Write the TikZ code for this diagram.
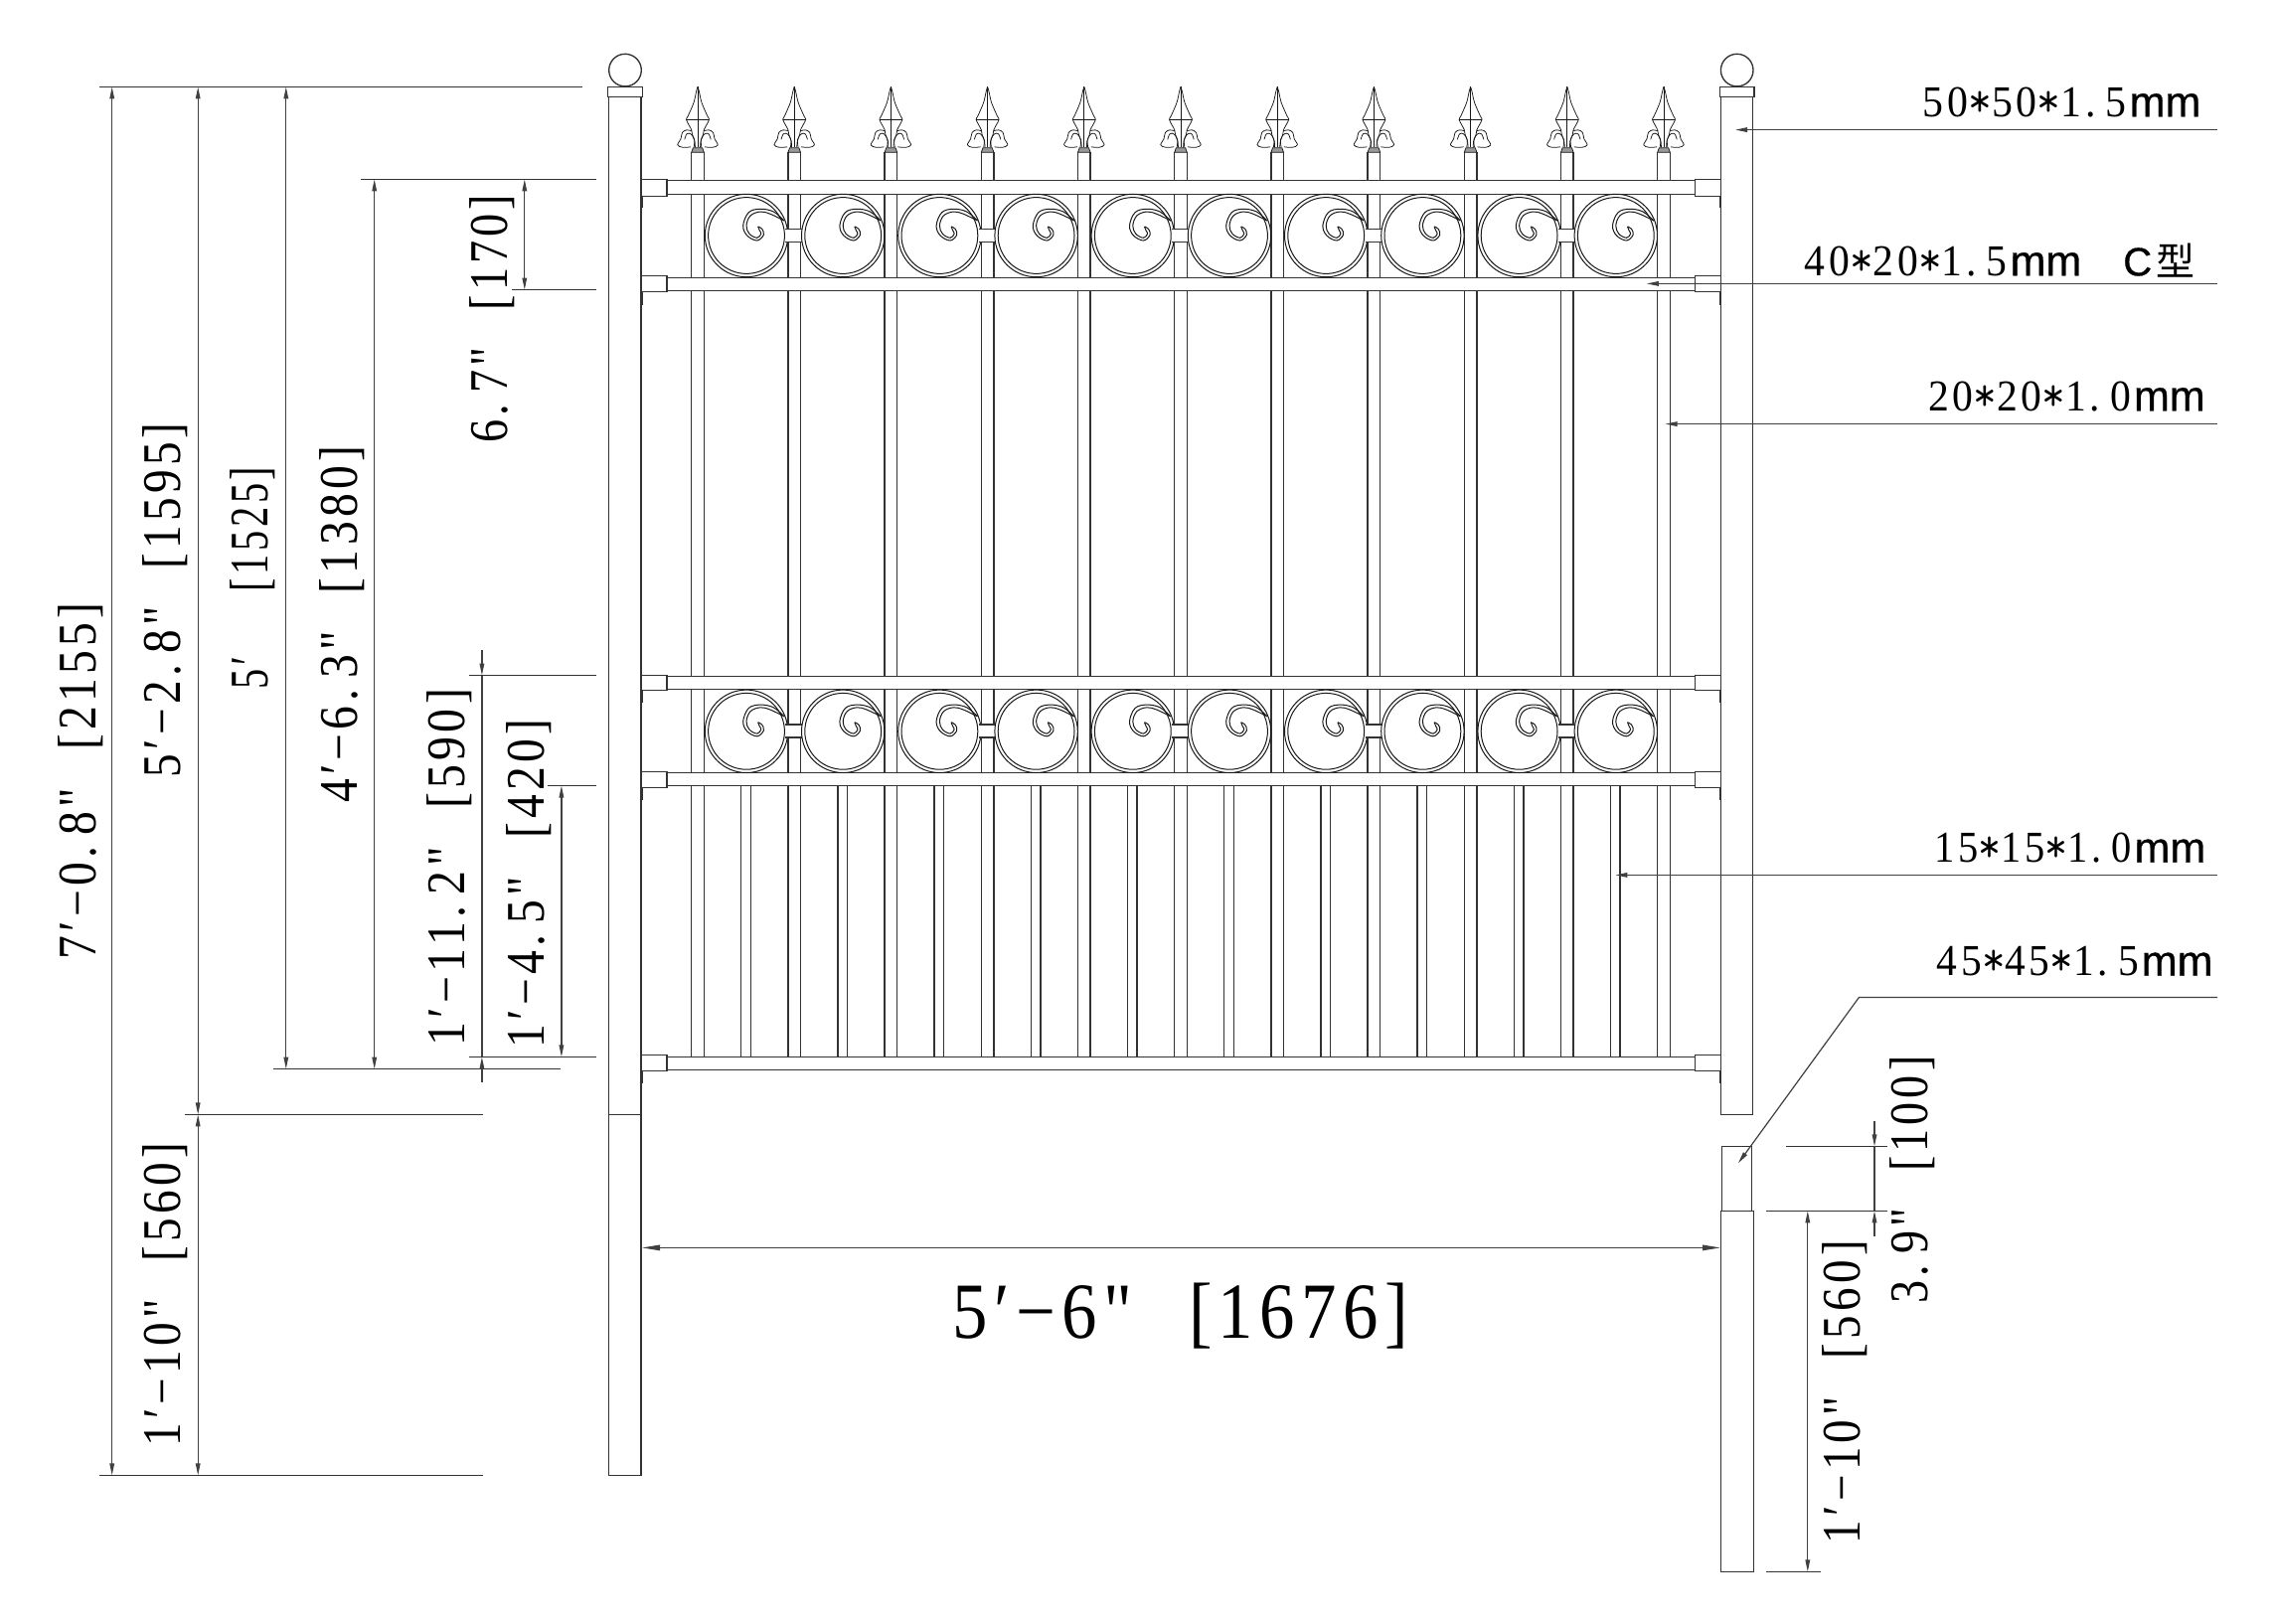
\documentclass[tikz,border=0pt]{standalone}
\usepackage{fontspec}
\usepackage{graphicx}
\usetikzlibrary{arrows.meta}
\newfontfamily\cad[LetterSpace=9]{Liberation Serif}
\newfontfamily\cadsans{Liberation Sans}
\newfontfamily\cadmm[FakeBold=0.7]{Liberation Sans}
\newfontfamily\cjk{Noto Sans CJK SC}
\newcommand{\dg}{.\hspace{.24em}}
\newcommand{\gp}{\hspace{.8em}}
\newcommand{\st}{{\ttfamily\fontsize{49}{49}\selectfont *}}
\newcommand{\vlab}[2]{\resizebox{#1pt}{\height}{\cad\fontsize{54.7}{60}\selectfont #2}}
\newcommand{\blab}[2]{\resizebox{#1pt}{\height}{\cad\fontsize{80}{90}\selectfont #2}}
\newcommand{\rlab}[2]{\resizebox{#1pt}{\height}{\cad\fontsize{44.4}{50}\selectfont #2}\kern3pt{\cadmm\fontsize{43}{50}\selectfont mm}}
\tikzset{
  fence/.style={line width=1.35pt,draw=black!80},
  thin fence/.style={line width=1pt,draw=black!90},
  fine fence/.style={line width=.75pt,draw=black!90},
  level/.style={line width=1.15pt,draw=black!80},
  tabline/.style={line width=2.2pt,draw=black!80},
  posttab/.style={line width=1.7pt,draw=black!80},
  dimline/.style={line width=1.2pt,draw=black!75},
  dimtip/.tip={Stealth[length=12pt,width=4.6pt,inset=0pt]},
  bigtip/.tip={Stealth[length=18pt,width=5.5pt,inset=0pt]},
  vtext/.style={inner sep=0pt,outer sep=0pt,rotate=90,anchor=base west},
  htext/.style={inner sep=0pt,outer sep=0pt,anchor=base west},
  scrollcurl/.pic={
    \draw[thin fence] plot[smooth,tension=.6] coordinates {(38,-15) (27.3,-24) (14,-26.7) (2.3,-23.3) (-3.3,-10) (0.7,0) (10.7,5) (17.3,-0.7) (15.7,-6.7) (11.7,-9)};
    \draw[thin fence] plot[smooth,tension=.6] coordinates {(38,-15) (24,-21.7) (14,-24) (4,-20) (0,-10) (3,-1.7) (10.7,2.3) (14.7,-1.7) (13.3,-5) (11.7,-9)};
  },
  finial/.pic={
    \foreach \s in {1,-1}{
      \begin{scope}[xscale=\s]
        \draw[fine fence] plot[smooth,tension=.5] coordinates {(0,0) (1.3,4.3) (4,16) (9.7,29.3) (11.5,33) (8.7,38.7) (6.3,43.3) (5.5,48) (3,55) (2.6,61)};
        \draw[fine fence] plot[smooth,tension=.6] coordinates {(6,44.5) (11,43.5) (15.5,46) (17,52.5) (20.2,58.5) (15,61) (7,60.5)};
        \draw[fine fence] plot[smooth,tension=.6] coordinates {(3.8,60.5) (3.4,53) (7,47.5) (11,47.5) (13.2,53)};
      \end{scope}
    }
    \draw[fine fence] (0,0) -- (0,61);
    \draw[fine fence] (-11.3,33) -- (11.3,33);
    \draw[fine fence,fill=black!40] (-4.7,61.5) -- (4.7,61.5) -- (6.3,66) -- (-6.3,66) -- cycle;
  }
}
\begin{document}
\begin{tikzpicture}[x=1pt,y=-1pt]
\useasboundingbox (0,0) rectangle (2288,1633);
\fill[white] (0,0) rectangle (2288,1633);

% pickets
\foreach \i in {0,...,10}{
  \pgfmathsetmacro{\xa}{695.7+97.2*\i}
  \pgfmathsetmacro{\xb}{\xa+12.6}
  \pgfmathsetmacro{\xc}{\xa+6.3}
  \draw[fence] (\xa,153.3) -- (\xa,1063.4);
  \draw[fence] (\xb,153.3) -- (\xb,1063.4);
  \pic at (\xc,87.3) {finial};
}
% short pickets
\foreach \i in {0,...,9}{
  \pgfmathsetmacro{\xa}{745.7+97.2*\i}
  \pgfmathsetmacro{\xb}{\xa+9.6}
  \draw[fence] (\xa,790.7) -- (\xa,1063.4);
  \draw[fence] (\xb,790.7) -- (\xb,1063.4);
}
% rails and brackets
\foreach \ra/\rb/\ba/\bb/\tb in {181.7/195.3/180.4/197.4/209, 279.4/292.3/277.4/293.5/307, 680.3/693.3/679.4/694.7/707, 777.7/790.7/776.4/792.7/805, 1063.4/1076.4/1061.7/1077.7/1090}{
  \draw[fence,fill=white] (671,\ra) -- (1705.5,\ra) -- (1705.5,\rb) -- (671,\rb) -- cycle;
  \draw[fence,fill=white] (645,\ba) rectangle (671,\bb);
  \draw[fence,fill=white] (1705.5,\ba) rectangle (1731.7,\bb);
  \draw[tabline] (645.5,\bb) -- (645.5,\tb);
  \draw[tabline] (1731.2,\bb) -- (1731.2,\tb);
}
% scrolls
\foreach \cy in {237,735.8}{
  \foreach \j in {0,2,4,6,8}{
    \pgfmathsetmacro{\cxa}{751+97.2*\j}
    \pgfmathsetmacro{\cxb}{\cxa+97.2}
    \pgfmathsetmacro{\bl}{\cxa+39.3}
    \pgfmathsetmacro{\br}{\cxb-41.5}
    \pgfmathsetmacro{\bt}{\cy-6.8}
    \pgfmathsetmacro{\bu}{\cy+6.2}
    \draw[thin fence] (\cxa,\cy) circle (41.7pt);
    \draw[thin fence] (\cxa,\cy) circle (38.4pt);
    \fill[white] (\bl,\bt) rectangle (\br,\bu);
    \draw[fence] (\bl,\bt) -- (\br,\bt);
    \draw[fence] (\bl,\bu) -- (\br,\bu);
    \draw[thin fence] (\cxb,\cy) circle (41.7pt);
    \draw[thin fence] (\cxb,\cy) circle (38.4pt);
    \pic at (\cxa,\cy) {scrollcurl};
    \pic at (\cxb,\cy) {scrollcurl};
  }
}
% posts
\draw[fence] (629,70.6) circle (16.3pt);
\draw[fence] (1747.7,70.6) circle (16.3pt);
\draw[fence,fill=white] (611.5,87.4) rectangle (646.2,97.4);
\draw[fence,fill=white] (1730.5,87.4) rectangle (1765,97.4);
\draw[fence] (612.7,97.4) rectangle (645,1484.4);
\draw[fence] (612.7,1121.6) -- (645,1121.6);
\draw[posttab] (645.2,1121.6) -- (645.2,1287);
\draw[fence] (1731.7,97.4) rectangle (1763.8,1121.4);
\draw[fence] (1732.6,1153.4) rectangle (1762.3,1218.4);
\draw[fence,fill=white] (1731.4,1218.4) rectangle (1764.2,1581.4);
\draw[posttab] (1731.4,1218.4) -- (1731.4,1287);

% level coordinates
\coordinate (l1a) at (100,87.4);     \coordinate (l1b) at (586,87.4);
\coordinate (l2a) at (363,180.4);  \coordinate (l2b) at (600.4,180.4);
\coordinate (l3a) at (515,291.5);  \coordinate (l3b) at (600.4,291.5);
\coordinate (l4a) at (472,679.6);  \coordinate (l4b) at (600.4,679.6);
\coordinate (l5a) at (551.4,790.5);\coordinate (l5b) at (600.4,790.5);
\coordinate (l6a) at (472,1063.4); \coordinate (l6b) at (600.4,1063.4);
\coordinate (l7a) at (274.7,1075.6);\coordinate (l7b) at (563.7,1075.6);
\coordinate (l8a) at (186,1121.4); \coordinate (l8b) at (486,1121.4);
\coordinate (l9a) at (100,1484.4); \coordinate (l9b) at (486,1484.4);
\foreach \n in {1,...,9}{\draw[level] (l\n a) -- (l\n b);}
\coordinate (r1a) at (1797,1153.4); \coordinate (r1b) at (1899,1153.4);
\coordinate (r2a) at (1777,1218.4); \coordinate (r2b) at (1899,1218.4);
\coordinate (r3a) at (1777,1581.4); \coordinate (r3b) at (1831.7,1581.4);
\foreach \n in {1,2,3}{\draw[level] (r\n a) -- (r\n b);}

% dimension lines
\coordinate (d1a) at (112.7,87.4);    \coordinate (d1b) at (112.7,1484.4);
\coordinate (d2a) at (199.2,87.4);    \coordinate (d2b) at (199.2,1121.4);
\coordinate (d3a) at (199.2,1121.4);\coordinate (d3b) at (199.2,1484.4);
\coordinate (d4a) at (287.8,87.4);    \coordinate (d4b) at (287.8,1075.6);
\coordinate (d5a) at (376.7,180.4); \coordinate (d5b) at (376.7,1075.6);
\coordinate (d6a) at (527.8,180.4); \coordinate (d6b) at (527.8,291.5);
\coordinate (d7a) at (564.9,790.5); \coordinate (d7b) at (564.9,1063.4);
\coordinate (d8a) at (1818.8,1218.4);\coordinate (d8b) at (1818.8,1581.4);
\foreach \n in {1,...,8}{\draw[dimline,dimtip-dimtip] (d\n a) -- (d\n b);}
% outside-arrow dimensions
\coordinate (e1a) at (484.9,654);  \coordinate (e1b) at (484.9,679.6);
\coordinate (e1c) at (484.9,1063.4);\coordinate (e1d) at (484.9,1089);
\draw[dimline,-dimtip] (e1a) -- (e1b);
\draw[dimline] (e1b) -- (e1c);
\draw[dimline,-dimtip] (e1d) -- (e1c);
\coordinate (e2a) at (1886,1127.7); \coordinate (e2b) at (1886,1153.4);
\coordinate (e2c) at (1886,1218.4); \coordinate (e2d) at (1886,1244);
\draw[dimline,-dimtip] (e2a) -- (e2b);
\draw[dimline] (e2b) -- (e2c);
\draw[dimline,-dimtip] (e2d) -- (e2c);
% width dimension
\coordinate (wa) at (646,1255.4); \coordinate (wb) at (1731,1255.4);
\draw[dimline,bigtip-bigtip] (wa) -- (wb);
% leaders
\coordinate (p1a) at (2231,130.6); \coordinate (p1b) at (1746,130.6);
\coordinate (p2a) at (2231,285.4);   \coordinate (p2b) at (1656.8,285.4);
\coordinate (p3a) at (2231,426.6); \coordinate (p3b) at (1675.5,426.6);
\coordinate (p4a) at (2231,880.4); \coordinate (p4b) at (1625.4,880.4);
\foreach \n in {1,...,4}{\draw[dimline,-dimtip] (p\n a) -- (p\n b);}
\coordinate (p5a) at (2231,1003.4); \coordinate (p5k) at (1870.5,1003.4); \coordinate (p5b) at (1748.9,1170.4);
\draw[dimline,-dimtip] (p5a) -- (p5k) -- (p5b);

% rotated labels
\node[vtext] (tA) at (96,965.8)    {\vlab{359.5}{7′−0\dg8"\gp[2155]}};
\node[vtext] (tB) at (181.6,782.3) {\vlab{357}{5′−2\dg8"\gp[1595]}};
\node[vtext] (tC) at (269.4,693)   {\vlab{223.4}{5′\gp\gp[1525]}};
\node[vtext] (tD) at (359,807.9)   {\vlab{359}{4′−6\dg3"\gp[1380]}};
\node[vtext] (tE) at (510,445.6)   {\vlab{250}{6\dg7"\gp[170]}};
\node[vtext] (tF) at (467.3,1052.5){\vlab{359.5}{1′−11\dg2"\gp[590]}};
\node[vtext] (tG) at (547,1054.7)  {\vlab{331}{1′−4\dg5"\gp[420]}};
\node[vtext] (tH) at (181.6,1455.8){\vlab{305.8}{1′−10"\gp[560]}};
\node[vtext] (tI) at (1871.7,1553) {\vlab{304.7}{1′−10"\gp[560]}};
\node[vtext] (tJ) at (1939.7,1311.5){\vlab{249}{3\dg9"\gp[100]}};
\node[htext] (tK) at (958.7,1346.7){\blab{458}{5′−6"\gp[1676]}};
% right labels
\node[htext] (r1) at (1934.7,117.3) {\rlab{205}{50\st50\st1\dg5}};
\node[htext] (r2) at (1815.6,277.3) {\rlab{204}{40\st20\st1\dg5}\kern42pt{\cadmm\fontsize{40}{48}\selectfont C}\kern4pt{\cjk\fontsize{39}{46}\selectfont 型}};
\node[htext] (r3) at (1940,413.3)   {\rlab{204}{20\st20\st1\dg0}};
\node[htext] (r4) at (1946.6,867.7) {\rlab{198}{15\st15\st1\dg0}};
\node[htext] (r5) at (1948.8,981.7) {\rlab{203}{45\st45\st1\dg5}};
\end{tikzpicture}
\end{document}
